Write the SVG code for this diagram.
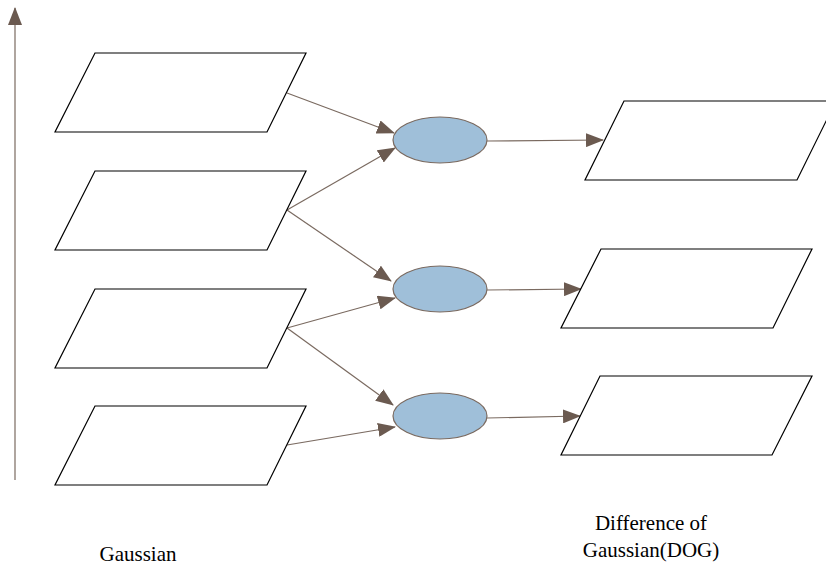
<svg xmlns="http://www.w3.org/2000/svg" width="826" height="570" viewBox="0 0 826 570">
<defs>
<style>
.para{fill:#fff;stroke:#000;stroke-width:1.2}
.ell{fill:#9fbfd9;stroke:#7a6a60;stroke-width:1.2}
.con{stroke:#7a6a60;stroke-width:1.2;fill:none;marker-end:url(#ah)}
.lbl{font-family:"Liberation Serif","Times New Roman",serif;font-size:21px;fill:#000;text-anchor:middle}
</style>
<marker id="ah" markerUnits="userSpaceOnUse" markerWidth="18" markerHeight="14" viewBox="0 0 18 14" refX="17" refY="7" orient="auto">
<path d="M0,0 L18,7 L0,14 Z" fill="#6b5a50"/>
</marker>
</defs>
<rect width="826" height="570" fill="#fff"/>
<g id="connectors">
<line class="con" x1="15" y1="480" x2="15" y2="8"/>
<line class="con" x1="287" y1="93" x2="394" y2="133"/>
<line class="con" x1="287" y1="210" x2="395" y2="148"/>
<line class="con" x1="287" y1="210" x2="391" y2="281"/>
<line class="con" x1="287" y1="328" x2="395" y2="298"/>
<line class="con" x1="287" y1="328" x2="393" y2="405"/>
<line class="con" x1="287" y1="445" x2="395" y2="427"/>
<line class="con" x1="487" y1="141" x2="603" y2="140"/>
<line class="con" x1="487" y1="290" x2="581" y2="289"/>
<line class="con" x1="487" y1="418" x2="580" y2="416"/>
</g>
<g id="g1"><polygon class="para" points="95,53 306,53 267,132 55,132"/></g>
<g id="g2"><polygon class="para" points="95,171 306,171 267,250 55,250"/></g>
<g id="g3"><polygon class="para" points="95,289 306,289 267,368 55,368"/></g>
<g id="g4"><polygon class="para" points="95,406 306,406 267,485 55,485"/></g>
<g id="e1"><ellipse class="ell" cx="440" cy="140" rx="47" ry="23"/></g>
<g id="e2"><ellipse class="ell" cx="440" cy="289" rx="47" ry="23"/></g>
<g id="e3"><ellipse class="ell" cx="440" cy="416" rx="47" ry="23"/></g>
<g id="d1"><polygon class="para" points="624,101 836,101 797,180 585,180"/></g>
<g id="d2"><polygon class="para" points="601,249 812,249 773,328 561,328"/></g>
<g id="d3"><polygon class="para" points="600,376 812,376 772,455 561,455"/></g>
<g id="labels">
<text class="lbl" x="138" y="561">Gaussian</text>
<text class="lbl" x="651" y="530">Difference of</text>
<text class="lbl" x="651" y="557">Gaussian(DOG)</text>
</g>
</svg>
